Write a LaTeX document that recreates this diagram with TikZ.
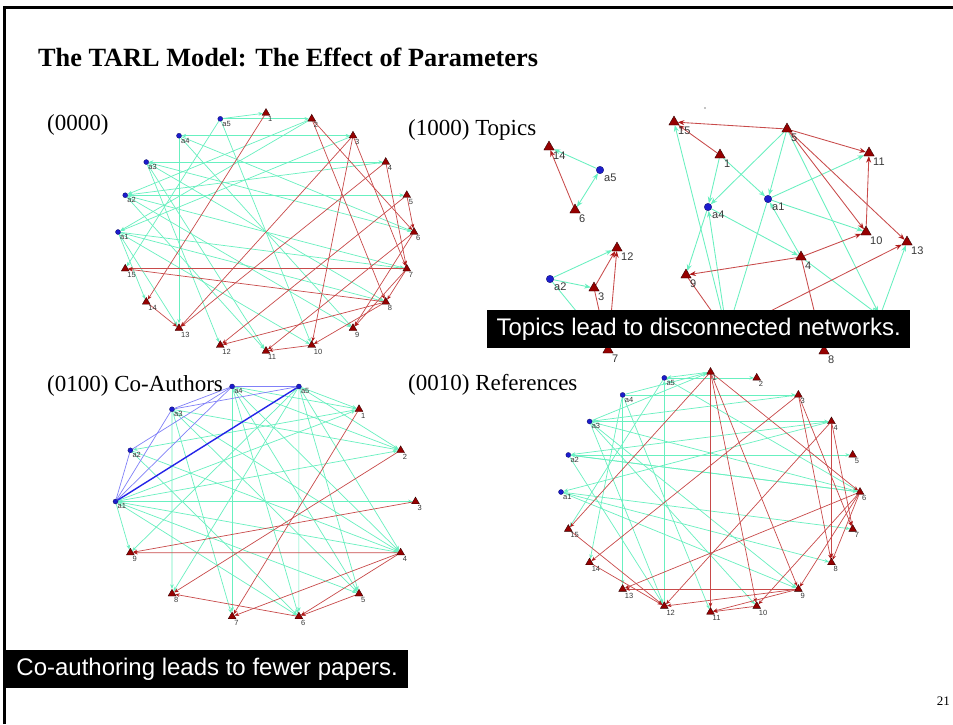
\documentclass[tikz,border=0pt]{standalone}
\usepackage{fontspec}
\setmainfont{Liberation Serif}
\setsansfont{Liberation Sans}
\usetikzlibrary{arrows.meta,shapes.geometric,backgrounds,calc}

\definecolor{citeline}{RGB}{200,74,74}
\definecolor{citetip}{RGB}{175,25,25}
\definecolor{authline}{RGB}{104,240,192}
\definecolor{coline}{RGB}{128,128,248}
\definecolor{costrong}{RGB}{36,36,232}
\definecolor{paperred}{RGB}{150,0,0}
\definecolor{authblue}{RGB}{28,28,205}
\definecolor{tagtext}{RGB}{55,55,55}

\tikzset{
  paper/.style={regular polygon,regular polygon sides=3,inner sep=0pt,minimum size=9pt,
    fill=paperred,draw=black!70!paperred,line width=0.35pt},
  author/.style={circle,inner sep=0pt,minimum size=5pt,fill=authblue,
    draw=black!50!authblue,line width=0.3pt},
  bigpaper/.style={paper,minimum size=12pt},
  bigauthor/.style={author,minimum size=7.5pt},
  tag/.style={font=\sffamily\fontsize{7.5}{7.5}\selectfont,text=tagtext,inner sep=0pt,anchor=north west},
  bigtag/.style={font=\sffamily\fontsize{11}{11}\selectfont,text=tagtext,inner sep=0pt,anchor=north west},
  wrote/.style={draw=authline,line width=0.7pt,-{Stealth[length=4.5pt,width=3.6pt]}},
  cites/.style={draw=citeline,line width=0.7pt,-{Stealth[length=4.5pt,width=3.6pt,color=citetip]}},
  bigwrote/.style={draw=authline,line width=0.85pt,-{Stealth[length=6.5pt,width=5pt]}},
  bigcites/.style={draw=citeline,line width=0.85pt,-{Stealth[length=6.5pt,width=5pt,color=citetip]}},
  coauth/.style={draw=coline,line width=0.7pt},
  coauthstrong/.style={draw=costrong,line width=1.4pt},
  caption/.style={font=\fontsize{23}{23}\selectfont,anchor=west,inner sep=0pt},
  banner/.style={fill=black,text=white,font=\sffamily\fontsize{24}{24}\selectfont,
    anchor=north west,inner sep=0pt,minimum height=38pt},
}

% draw a list of source/target links between nodes of one graph
\newcommand\linkset[3]{\foreach \s/\t in {#3}{\draw[#1] (#2\s) -- (#2\t);}}

\begin{document}
\begin{tikzpicture}[x=1pt,y=-1pt]
\useasboundingbox (0,0) rectangle (953,724);

% slide frame and title
\draw[line width=3pt] (4.5,724) -- (4.5,7.5) -- (953,7.5);
\node[anchor=west,inner sep=0pt,font=\bfseries\fontsize{26.3}{26.3}\selectfont] (title) at (38,57)
  {The TARL Model: The Effect of Parameters};

% ---------- graph A: (0000) ----------
\foreach \k in {1,...,15}{
  \node[paper] (A\k) at ({266+148*cos(108-18*\k)},{232-119*sin(108-18*\k)}) {};
  \node[tag] (A\k-t) at ($(A\k)+(2,3.5)$) {\k};
}
\foreach \k in {1,...,5}{
  \node[author] (Aa\k) at ({266+148*cos(-162-18*\k)},{232-119*sin(-162-18*\k)}) {};
  \node[tag] (Aa\k-t) at ($(Aa\k)+(2,2)$) {a\k};
}

% ---------- graph B: (1000) Topics ----------
\foreach \n/\x/\y in {14/549/147,6/575/210,3/594/288,12/617/248,7/608/350,15/674/122,
  5/787/129,1/720/155,11/869/153,10/866/232,13/907/242,4/801/257,9/686/275,8/824/351}{
  \node[bigpaper] (B\n) at (\x,\y) {};
  \node[bigtag] (B\n-t) at ($(B\n)+(4,5)$) {\n};
}
\foreach \n/\x/\y in {a5/600/170,a2/550/279,a4/708/207,a1/768/199}{
  \node[bigauthor] (B\n) at (\x,\y) {};
  \node[bigtag] (B\n-t) at ($(B\n)+(4,4)$) {\n};
}
% these two sit under the banner
\node[bigpaper] (B2) at (727,333) {};
\node[bigauthor] (Ba3) at (880,316) {};
\fill (705,108) circle (0.6);

% ---------- graph C: (0100) Co-Authors ----------
\foreach \k in {1,...,9}{
  \node[paper] (C\k) at ({265.5+150*cos(77.142857-25.714286*\k)},{501.5-118*sin(77.142857-25.714286*\k)}) {};
  \node[tag] (C\k-t) at ($(C\k)+(2,3.5)$) {\k};
}
\foreach \k in {1,...,5}{
  \node[author] (Ca\k) at ({265.5+150*cos(77.142857-25.714286*(9+\k))},{501.5-118*sin(77.142857-25.714286*(9+\k))}) {};
  \node[tag] (Ca\k-t) at ($(Ca\k)+(2,2)$) {a\k};
}

% ---------- graph D: (0010) References ----------
\foreach \k in {1,...,15}{
  \node[paper] (D\k) at ({710.5+149.5*cos(108-18*\k)},{492-120*sin(108-18*\k)}) {};
  \node[tag] (D\k-t) at ($(D\k)+(2,3.5)$) {\k};
}
\foreach \k in {1,...,5}{
  \node[author] (Da\k) at ({710.5+149.5*cos(-162-18*\k)},{492-120*sin(-162-18*\k)}) {};
  \node[tag] (Da\k-t) at ($(Da\k)+(2,2)$) {a\k};
}

% captions
\node[caption] (capA) at (47,125) {(0000)};
\node[caption] (capB) at (408,130) {(1000) Topics};
\node[caption] (capC) at (47,386) {(0100) Co-Authors};
\node[caption] (capD) at (408,385) {(0010) References};

% links, kept beneath the nodes
\begin{pgfonlayer}{background}
  \fill[white] (0,0) rectangle (953,724);
  % A
  \linkset{wrote}{A}{a5/1,a5/2,a5/10,a5/15,a4/3,3/a4,a4/13,a4/9,a4/6,a3/4,4/a3,a3/8,a3/6,a3/12,a3/11,
    a2/5,a2/7,a2/11,a2/9,2/a2,4/a2,a1/7,a1/14,a1/13,a1/10,2/a1,3/a1,a1/8}
  \linkset{cites}{A}{1/14,2/8,2/6,3/10,3/7,3/13,4/13,4/7,5/6,5/12,6/11,6/9,7/9,7/8,7/15,8/15,8/12,8/10,10/11,14/13}
  % B
  \linkset{bigwrote}{B}{a5/14,a2/12,a2/3,a2/7,2/15,5/a4,1/a4,a4/9,a4/4,a1/11,a1/10,5/a1,4/a1,1/a1,
    a3/13,5/a3,4/a3,2/a4,a1/2}
  \draw[bigwrote,{Stealth[length=6.5pt,width=5pt]}-{Stealth[length=6.5pt,width=5pt]}] (Ba5) -- (B6);
  \linkset{bigcites}{B}{6/14,3/12,7/12,3/7,5/15,1/15,5/11,5/10,5/13,10/11,4/10,4/9,9/2,2/13,4/8}
  % C
  \linkset{wrote}{C}{a5/1,a5/2,a5/4,a5/5,a5/6,a5/8,a5/9,a4/7,a4/1,a4/2,a4/4,a4/5,a4/6,a3/8,a3/2,a3/4,
    a3/5,a3/7,1/a2,a2/4,a2/6,a1/3,a1/9,a1/4,a1/5,a1/6,a1/2,a1/1}
  \linkset{cites}{C}{1/7,2/8,3/9,4/9,4/7,4/6,5/6,6/8}
  \linkset{coauth}{C}{a4/a5,a3/a4,a3/a5,a2/a4,a1/a2,a1/a3,a1/a4}
  \draw[coauthstrong] (Ca1) -- (Ca5);
  % D
  \linkset{wrote}{D}{a5/2,1/a5,a4/1,a3/1,a4/3,a3/4,a2/5,6/a2,4/a1,12/a5,a5/15,a4/14,a4/13,a3/12,a3/9,
    a3/6,a3/10,a2/6,a2/12,a1/7,a1/8,a1/9,a4/11,a5/6,3/a3,4/a2}
  \linkset{cites}{D}{1/11,1/15,1/6,1/9,1/10,3/14,4/12,3/7,3/8,4/8,4/7,6/13,6/9,6/10,6/8,9/13,9/12,
    9/11,10/11,15/12,14/12}
\end{pgfonlayer}

% banners
\node[banner,minimum width=423pt] (topicsnote) at (487,310) {Topics lead to disconnected networks.};
\node[banner,minimum width=402pt] (coauthnote) at (6,650) {Co-authoring leads to fewer papers.};

% page number
\node[anchor=east,inner sep=0pt,font=\fontsize{13}{13}\selectfont] (pageno) at (950,701) {21};
\end{tikzpicture}
\end{document}
